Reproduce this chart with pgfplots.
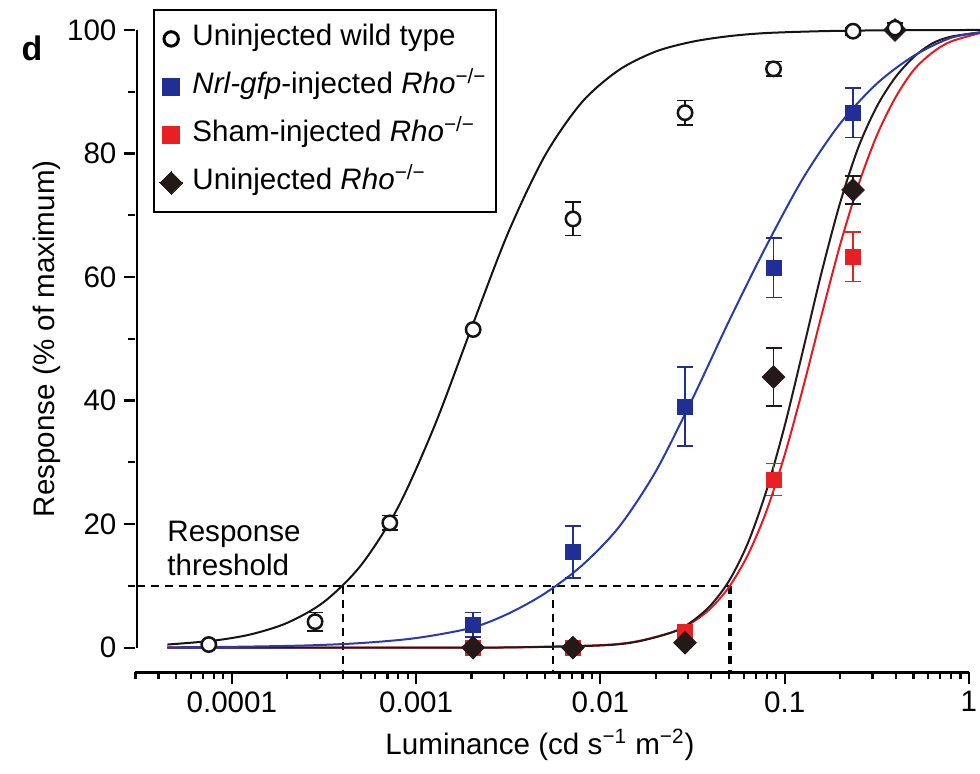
\documentclass[border=0pt]{standalone}
\usepackage{pgfplots}
\pgfplotsset{compat=1.18}
\usepackage{fontspec}
\setmainfont{Liberation Sans}

\definecolor{wtblack}{RGB}{20,20,20}
\definecolor{nrlblue}{RGB}{32,46,150}
\definecolor{nrlline}{RGB}{40,58,172}
\definecolor{shamred}{RGB}{232,32,36}
\definecolor{shamline}{RGB}{236,22,30}
\definecolor{rhoblack}{RGB}{35,25,25}

\pgfplotsset{
  ebar/.style={
    error bars/y dir=both,
    error bars/y explicit,
    error bars/error bar style={line width=0.8pt, #1},
    error bars/error mark options={rotate=90, mark size=4pt, line width=0.8pt, #1}},
}

\begin{document}
\begin{tikzpicture}[font=\fontsize{14.8}{17.8}\selectfont]
\begin{axis}[
  scale only axis,
  width=417pt, height=321.4pt,
  xmode=log,
  xmin=3e-5, xmax=1,
  ymin=-4, ymax=100,
  clip=false,
  axis x line*=bottom,
  axis y line*=left,
  y axis line style={draw=none},
  x axis line style={line width=1.2pt},
  xtick={1e-4,1e-3,1e-2,1e-1,1},
  xticklabels={0.0001,0.001,0.01,0.1,1},
  minor xtick={3e-5,4e-5,5e-5,6e-5,7e-5,8e-5,9e-5,
               2e-4,3e-4,4e-4,5e-4,6e-4,7e-4,8e-4,9e-4,
               2e-3,3e-3,4e-3,5e-3,6e-3,7e-3,8e-3,9e-3,
               2e-2,3e-2,4e-2,5e-2,6e-2,7e-2,8e-2,9e-2,
               0.2,0.3,0.4,0.5,0.6,0.7,0.8,0.9},
  ytick={0,20,40,60,80,100},
  minor ytick={10,30,50,70,90},
  tick align=outside,
  major tick length=6pt,
  minor tick length=3.5pt,
  every tick/.style={line width=1.1pt, black},
  /pgf/number format/assume math mode=true,
  tick label style={font=\fontsize{14.8}{17.8}\selectfont},
  legend cell align=left,
  legend image code/.code={%
    \path (0pt,0pt) (10pt,0pt);
    \draw[#1] plot coordinates {(5pt,0pt)};},
  legend style={
    at={(axis cs:3.73e-5,103.4)}, anchor=north west,
    draw=black, line width=1pt,
    inner xsep=3pt, inner ysep=5pt,
    row sep=5pt, column sep=3pt,
    font=\fontsize{14.8}{17.8}\selectfont,
    nodes={inner sep=2pt, text height=11pt, text depth=4pt},
  },
]

% threshold guides
\addplot[black, line width=1pt, dash pattern=on 4pt off 3pt, forget plot]
  coordinates {(3.06e-5,10) (0.0505,10)};
\addplot[black, line width=1pt, dash pattern=on 4pt off 3pt, forget plot]
  coordinates {(4.01e-4,10) (4.01e-4,-4)};
\addplot[black, line width=1pt, dash pattern=on 4pt off 3pt, forget plot]
  coordinates {(5.53e-3,10) (5.53e-3,-4)};
\addplot[black, line width=2pt, dash pattern=on 4pt off 3pt, forget plot]
  coordinates {(0.0505,10) (0.0505,-4)};

% fitted curves
\addplot[shamline, line width=1pt, smooth, forget plot] coordinates {
  (4.467e-5,0) (1e-3,0.006) (3.162e-3,0.04) (0.01,0.40) (0.01585,1.03)
  (0.02512,2.6) (0.03162,4.1) (0.03981,6.4) (0.05012,9.9) (0.0631,15.0)
  (0.07943,22.0) (0.1,31.2) (0.1259,42.1) (0.1585,53.8) (0.1995,65.1)
  (0.2512,74.9) (0.3162,82.9) (0.3981,89.0) (0.5012,93.5) (0.631,96.3)
  (0.7943,98.1) (1.148,99.5)};
\addplot[rhoblack, line width=1pt, smooth, forget plot] coordinates {
  (4.467e-5,0) (1e-3,0.005) (3.162e-3,0.03) (0.01,0.35) (0.01585,0.97)
  (0.02512,2.6) (0.03162,4.3) (0.03981,6.9) (0.05012,10.9) (0.0631,16.9)
  (0.07943,25.3) (0.1,35.9) (0.1259,48.2) (0.1585,60.7) (0.1995,71.9)
  (0.2512,81.0) (0.3162,87.6) (0.3981,92.3) (0.5012,95.6) (0.631,97.8)
  (0.7943,98.9) (1.148,99.6)};
\addplot[nrlline, line width=1pt, smooth, forget plot] coordinates {
  (4.467e-5,0.05) (1e-4,0.13) (2.512e-4,0.35) (5.012e-4,0.74) (1e-3,1.55)
  (1.995e-3,3.2) (3.162e-3,5.5) (5.012e-3,8.8) (7.943e-3,13.3)
  (0.01259,19.5) (0.01995,28.5) (0.03162,40.3) (0.05012,53.0)
  (0.07943,65.0) (0.1259,76.0) (0.1995,84.8) (0.3162,91.3)
  (0.5012,95.8) (0.7943,98.7) (1.148,99.6)};
\addplot[wtblack, line width=1pt, smooth, forget plot] coordinates {
  (4.467e-5,0.50) (7.943e-5,1.13) (1.259e-4,2.13) (1.995e-4,4.0)
  (3.162e-4,7.4) (5.012e-4,13.3) (7.943e-4,22.6) (1.259e-3,35.9)
  (1.995e-3,51.7) (3.162e-3,67.2) (5.012e-3,79.7) (7.943e-3,88.3)
  (0.01259,93.5) (0.01995,96.5) (0.03162,98.1) (0.05012,99.0)
  (0.07943,99.5) (0.1585,99.8) (0.3162,99.93) (0.631,99.97) (1.148,100)};

% measured responses (mean +/- s.e.m.)
\addplot[forget plot, only marks, mark=square*, mark size=3.8pt, shamred,
  mark options={draw=shamred, fill=shamred}, ebar=shamred]
  coordinates {
  (2.04e-3,0) +- (0,0)
  (7.1e-3,0) +- (0,0)
  (0.0288,2.6) +- (0,0.8)
  (0.087,27.2) +- (0,2.6)
  (0.235,63.3) +- (0,4.0)};
\addplot[forget plot, only marks, mark=square*, mark size=3.7pt, nrlblue,
  mark options={draw=nrlblue, fill=nrlblue}, ebar=nrlblue]
  coordinates {
  (2.04e-3,3.7) +- (0,2.0)
  (7.1e-3,15.5) +- (0,4.2)
  (0.0288,39.0) +- (0,6.4)
  (0.087,61.5) +- (0,4.8)
  (0.235,86.6) +- (0,4.0)};
\addplot[forget plot, only marks, mark=square*, mark size=4pt, rhoblack,
  mark options={draw=rhoblack, fill=rhoblack, rotate=45}, ebar=rhoblack]
  coordinates {
  (2.04e-3,0) +- (0,0)
  (7.1e-3,0) +- (0,0)
  (0.0288,0.8) +- (0,0)
  (0.087,43.8) +- (0,4.7)
  (0.235,74.1) +- (0,2.3)
  (0.397,100) +- (0,0)};
\addplot[forget plot, only marks, mark=*, mark size=3.6pt, wtblack,
  mark options={draw=wtblack, fill=white, line width=1.25pt}, ebar=wtblack]
  coordinates {
  (7.5e-5,0.5) +- (0,0)
  (2.83e-4,4.2) +- (0,1.5)
  (7.2e-4,20.2) +- (0,1.2)
  (2.04e-3,51.5) +- (0,0)
  (7.1e-3,69.4) +- (0,2.7)
  (0.0288,86.6) +- (0,2.0)
  (0.087,93.7) +- (0,1.2)
  (0.235,99.8) +- (0,0.6)
  (0.397,100.3) +- (0,0.8)};

% legend entries
\addlegendimage{only marks, mark=*, mark size=3.6pt,
  mark options={draw=black, fill=white, line width=1.5pt}}
\addlegendentry{Uninjected wild type}
\addlegendimage{only marks, mark=square*, mark size=4.1pt,
  mark options={draw=nrlblue, fill=nrlblue, line width=0pt}}
\addlegendentry{\textit{Nrl-gfp}-injected \textit{Rho}\textsuperscript{−/−}}
\addlegendimage{only marks, mark=square*, mark size=4.1pt,
  mark options={draw=shamred, fill=shamred, line width=0pt}}
\addlegendentry{Sham-injected \textit{Rho}\textsuperscript{−/−}}
\addlegendimage{only marks, mark=square*, mark size=4pt,
  mark options={draw=rhoblack, fill=rhoblack, rotate=45, line width=0pt}}
\addlegendentry{Uninjected \textit{Rho}\textsuperscript{−/−}}

% y axis line, spanning 0 to 100 only
\draw[line width=1.2pt, black] (axis cs:3.06e-5,0) -- (axis cs:3.06e-5,100);

% annotations
\node[anchor=base west, inner sep=0pt] at (axis cs:4.45e-5,17.15) {Response};
\node[anchor=base west, inner sep=0pt] at (axis cs:4.45e-5,11.65) {threshold};
\node[rotate=90, inner sep=0pt] at (axis cs:9.93e-6,50) {Response (\% of maximum)};
\node[inner sep=0pt, font=\fontsize{17}{20}\selectfont\bfseries] at (axis cs:8.24e-6,97.1) {d};
\node[inner sep=0pt] at (axis cs:4.7e-3,-15.7) {Luminance (cd s\textsuperscript{−1} m\textsuperscript{−2})};

\coordinate (bbSW) at (axis cs:5.52e-6,-20.39);
\coordinate (bbNE) at (axis cs:1.148,104.85);
\end{axis}
\pgfresetboundingbox
\useasboundingbox (bbSW) rectangle (bbNE);
\end{tikzpicture}
\end{document}
